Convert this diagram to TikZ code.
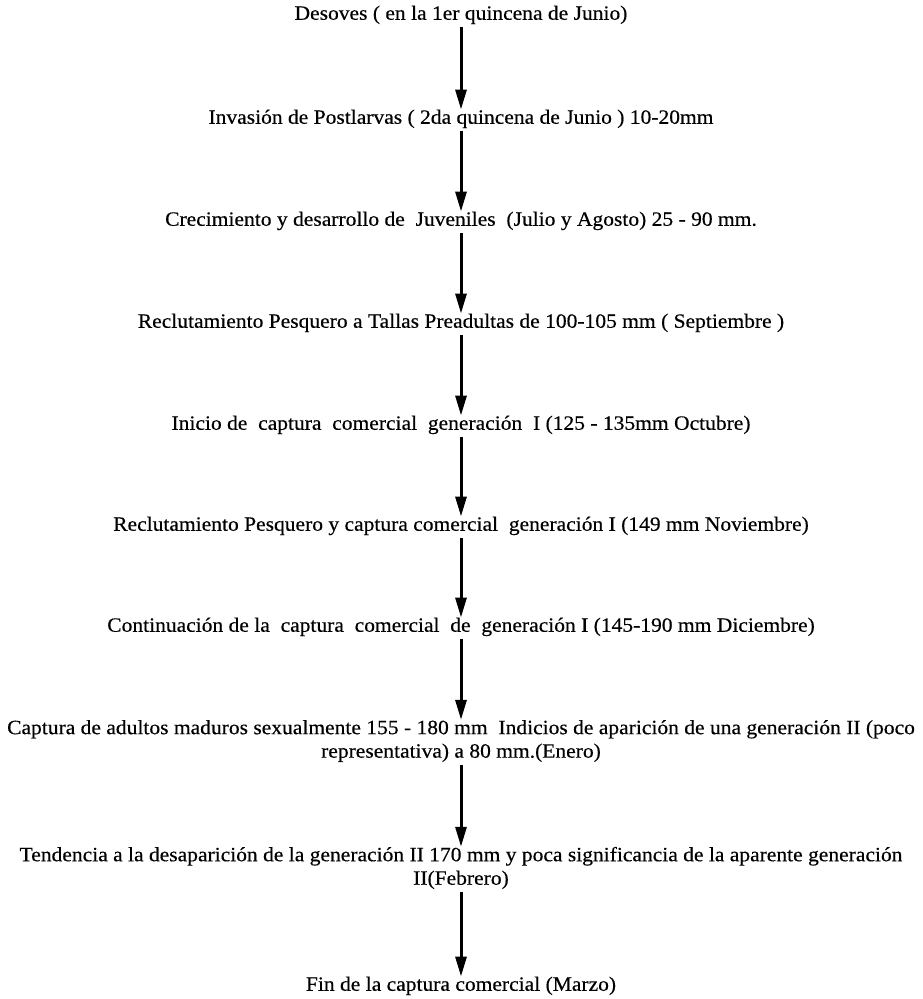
\documentclass[tikz,border=0pt]{standalone}
\usepackage{fontspec}
\setmainfont{Liberation Serif}[FakeStretch=1.06,FakeBold=0.4]
\usetikzlibrary{arrows.meta}
\tikzset{
  stagefont/.style={inner sep=0pt, align=center, font=\fontsize{20.3}{23.5}\selectfont},
  stage/.style={stagefont, text height=14pt, text depth=4.5pt},
  stagetwo/.style={stagefont},
  flowarrow/.style={line width=3pt, -{Triangle[length=20pt,width=11pt]}, shorten <=3pt}
}
\begin{document}
\begin{tikzpicture}[x=1pt,y=-1pt]
\useasboundingbox (0,0) rectangle (923,999);
\node[stage] (s1) at (461,15) {Desoves ( en la 1er quincena de Junio)};
\node[stage] (s2) at (461,119) {Invasión de Postlarvas ( 2da quincena de Junio ) 10-20mm};
\node[stage] (s3) at (461,221) {Crecimiento y desarrollo de \ Juveniles \ (Julio y Agosto) 25 - 90 mm.};
\node[stage] (s4) at (461,323) {Reclutamiento Pesquero a Tallas Preadultas de 100-105 mm ( Septiembre )};
\node[stage] (s5) at (461,425) {Inicio de \ captura \ comercial \ generación \ I (125 - 135mm Octubre)};
\node[stage] (s6) at (461,526) {Reclutamiento Pesquero y captura comercial \ generación I (149 mm Noviembre)};
\node[stage] (s7) at (461,627) {Continuación de la \ captura \ comercial \ de \ generación I (145-190 mm Diciembre)};
\node[stagetwo] (s8) at (461,741) {Captura de adultos maduros sexualmente 155 - 180 mm \ Indicios de aparición de una generación II (poco\\representativa) a 80 mm.(Enero)};
\node[stagetwo] (s9) at (461,868) {Tendencia a la desaparición de la generación II 170 mm y poca significancia de la aparente generación\\II(Febrero)};
\node[stage] (s10) at (461,986) {Fin de la captura comercial (Marzo)};
\foreach \a/\b in {s1/s2,s2/s3,s3/s4,s4/s5,s5/s6,s6/s7,s7/s8,s8/s9,s9/s10}
  \draw[flowarrow] (\a.south) -- (\b.north);
\end{tikzpicture}
\end{document}
